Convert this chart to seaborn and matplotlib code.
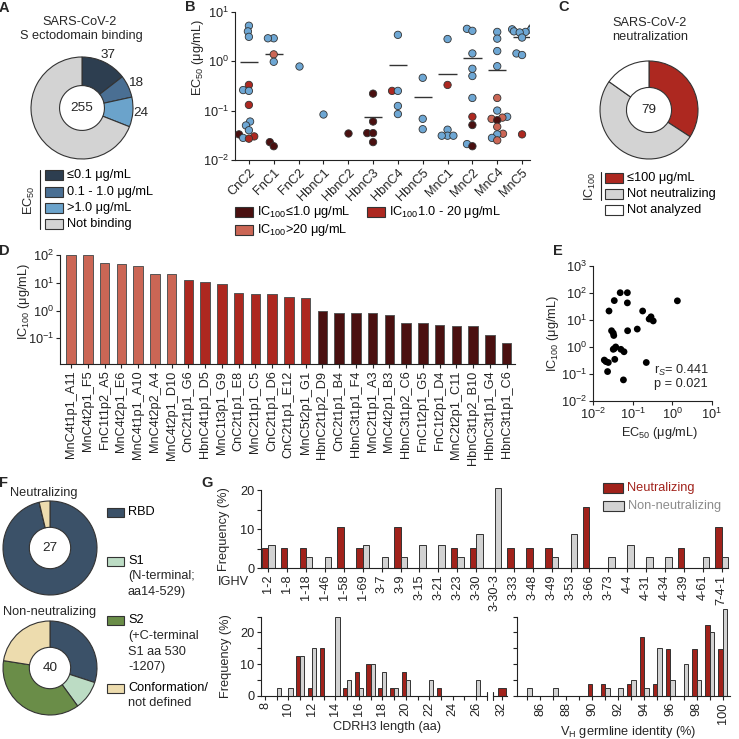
import numpy as np
import pandas as pd
import matplotlib
matplotlib.use("Agg")
import matplotlib.pyplot as plt
import matplotlib.patches as mpatches
import matplotlib.ticker as mticker
from matplotlib.collections import PathCollection
import seaborn as sns

# ─── DATA ────────────────────────────────────────────────────
# A: S ectodomain binding (EC50 classes)
a_counts = [37, 18, 24, 176]
a_labels = ["37", "18", "24", ""]

# B: EC50 per donor, colour = IC100 class
b_donors = ["CnC2", "FnC1", "FnC2", "HbnC1", "HbnC2", "HbnC3",
            "HbnC4", "HbnC5", "MnC1", "MnC2", "MnC4", "MnC5"]
b_donor = (["CnC2"] * 14 + ["FnC1"] * 6 + ["FnC2"] + ["HbnC1"] + ["HbnC2"]
           + ["HbnC3"] * 5 + ["HbnC4"] * 5 + ["HbnC5"] * 3 + ["MnC1"] * 6
           + ["MnC2"] * 10 + ["MnC4"] * 15 + ["MnC5"] * 10)
b_ec50 = [5.2, 4.0, 3.1, 0.33, 0.26, 0.25, 0.13, 0.06, 0.05, 0.04, 0.033, 0.030, 0.028, 0.027,
          2.9, 2.9, 1.37, 0.97, 0.023, 0.019,
          0.79,
          0.084,
          0.035,
          0.22, 0.06, 0.035, 0.035, 0.023,
          3.4, 0.25, 0.25, 0.124, 0.085,
          0.46, 0.068, 0.042,
          2.8, 0.33, 0.041, 0.031, 0.031, 0.031,
          4.5, 4.1, 1.43, 0.70, 0.50, 0.18, 0.075, 0.051, 0.021, 0.019,
          3.9, 2.85, 1.6, 0.79, 0.18, 0.10, 0.075, 0.072, 0.068, 0.064, 0.047, 0.034, 0.033, 0.028, 0.025,
          4.7, 4.4, 4.3, 4.0, 3.9, 3.8, 3.0, 1.43, 1.33, 0.033]
b_class = ["n", "n", "n", "mid", "n", "n", "mid", "n", "n", "n", "low", "mid", "n", "mid",
           "n", "n", "high", "n", "low", "low",
           "n",
           "n",
           "low",
           "low", "low", "low", "low", "low",
           "n", "mid", "n", "n", "n",
           "n", "n", "n",
           "n", "mid", "n", "n", "n", "n",
           "n", "n", "n", "n", "n", "n", "mid", "low", "n", "low",
           "n", "n", "n", "n", "high", "n", "n", "high", "high", "low", "high", "high", "n", "n", "high",
           "n", "n", "n", "n", "n", "n", "n", "n", "n", "mid"]

# C: neutralization
c_counts = [27, 40, 12]

# D: IC100 per antibody
d_names = ["MnC4t1p1_A11", "MnC4t2p1_F5", "FnC1t1p2_A5", "MnC4t2p1_E6", "MnC4t1p1_A10",
           "MnC4t2p2_A4", "MnC4t2p1_D10", "CnC2t1p1_G6", "HbnC4t1p1_D5", "MnC1t3p1_G9",
           "CnC2t1p1_E8", "MnC2t1p1_C5", "CnC2t1p1_D6", "CnC2t1p1_E12", "MnC5t2p1_G1",
           "HbnC2t1p2_D9", "CnC2t1p1_B4", "HbnC3t1p1_F4", "MnC2t1p1_A3", "MnC4t2p1_B3",
           "HbnC3t1p2_C6", "FnC1t2p1_G5", "FnC1t2p1_D4", "MnC2t2p1_C11", "HbnC3t1p2_B10",
           "HbnC3t1p1_G4", "HbnC3t1p1_C6"]
d_ic100 = [100, 100, 51, 50, 42, 21, 21, 12.8, 10.6, 9.0, 4.5, 3.9, 3.9, 3.2, 2.8,
           0.98, 0.85, 0.85, 0.85, 0.70, 0.36, 0.36, 0.30, 0.27, 0.27, 0.13, 0.066]

# E: EC50 vs IC100
e_ec50 = [0.048, 0.073, 0.034, 1.35, 0.073, 0.025, 0.178, 0.29, 0.26, 0.33, 0.13, 0.029, 0.074,
          0.032, 0.033, 0.037, 0.032, 0.050, 0.034, 0.060, 0.035, 0.019, 0.021, 0.024, 0.22,
          0.023, 0.058]
e_ic100 = [100, 100, 51, 50, 42, 21, 21, 12.8, 10.6, 9.0, 4.5, 3.9, 3.9, 3.2, 2.6, 0.98, 0.8,
           0.8, 0.85, 0.65, 0.34, 0.32, 0.28, 0.26, 0.26, 0.12, 0.059]

# F: epitope
f_labels = ["RBD", "S1", "S2", "Conformation"]
f_neut = [26, 0, 0, 1]
f_non = [12, 4, 15, 9]

# G: IGHV usage (%)
ighv = ["1-2", "1-8", "1-18", "1-46", "1-58", "1-69", "3-7", "3-9", "3-15", "3-21", "3-23",
        "3-30", "3-30-3", "3-33", "3-48", "3-49", "3-53", "3-66", "3-73", "4-4", "4-31",
        "4-34", "4-39", "4-61", "7-4-1"]
ighv_neut = [5.3, 5.3, 5.3, 0, 10.5, 5.3, 0, 10.5, 0, 0, 5.3, 5.3, 0, 5.3, 5.3, 5.3, 0, 15.8,
             0, 0, 0, 0, 5.3, 0, 10.5]
ighv_non = [5.9, 0, 2.9, 2.9, 0, 5.9, 2.9, 2.9, 5.9, 5.9, 2.9, 8.8, 20.6, 0, 0, 2.9, 8.8, 0,
            2.9, 5.9, 2.9, 2.9, 0, 2.9, 2.9]

cdr_len = [9, 10, 11, 12, 13, 14, 15, 16, 17, 18, 19, 20, 21, 22, 23, 24, 25, 26, 32]
cdr_neut = [0, 0, 12.5, 2.5, 15, 0, 2.5, 7.5, 10, 2.5, 2.5, 7.5, 0, 0, 2.5, 0, 0, 0, 2.5]
cdr_non = [2.5, 2.5, 12.5, 15, 0, 25, 5, 2.5, 10, 7.5, 2.5, 5, 0, 5, 0, 0, 0, 5, 0]

vh_id = [85, 86, 87, 88, 89, 90, 91, 92, 93, 94, 95, 96, 97, 98, 99, 100]
vh_neut = [0, 0, 0, 0, 0, 3.7, 3.7, 0, 3.7, 18.5, 3.7, 14.8, 0, 14.8, 22.2, 14.8]
vh_non = [2.5, 0, 2.5, 0, 0, 0, 2.5, 2.5, 5, 2.5, 15, 5, 10, 5, 20, 27.5]

# ─── STYLE ───────────────────────────────────────────────────
sns.set_theme(style="ticks")
FS = 9.2
plt.rcParams["font.family"] = ["Liberation Sans", "DejaVu Sans"]
plt.rcParams.update({
    "mathtext.fontset": "custom", "mathtext.rm": "Liberation Sans",
    "mathtext.it": "Liberation Sans:italic", "mathtext.bf": "Liberation Sans:bold",
    "font.size": FS, "axes.labelsize": FS, "xtick.labelsize": FS, "ytick.labelsize": FS,
    "axes.linewidth": 0.8, "axes.edgecolor": "#222",
    "xtick.major.width": 0.8, "ytick.major.width": 0.8,
    "xtick.minor.width": 0.8, "ytick.minor.width": 0.8,
    "xtick.major.size": 3, "ytick.major.size": 3,
    "xtick.minor.size": 3, "ytick.minor.size": 3,
    "xtick.major.pad": 1.5, "ytick.major.pad": 1.5,
    "xtick.color": "#222", "ytick.color": "#222",
})

NAVY, MIDBLUE, LIGHTBLUE, GREY = "#2d3e50", "#4a6f93", "#6ba3cb", "#d3d3d3"
DARKRED, RED, SALMON, PBLUE = "#4a1010", "#ad2820", "#cb6655", "#6ea7d4"
RBD, S1, S2, CONF = "#3b5168", "#bcdcc4", "#6a8d48", "#eddcae"
G_RED, G_GREY = "#a1221b", "#d2d2d2"
EDGE = "#333333"

W = H = 739
fig = plt.figure(figsize=(W / 100, H / 100), dpi=100)


def box(x0, y0, x1, y1):
    return [x0 / W, 1 - y1 / H, (x1 - x0) / W, (y1 - y0) / H]


def ftext(x, y, s, **kw):
    kw.setdefault("ha", "center")
    kw.setdefault("va", "center")
    fig.text(x / W, 1 - y / H, s, **kw)


def key(x, y, color, label, tcolor="black", w=18, h=10):
    fig.add_artist(mpatches.Rectangle((x / W, 1 - (y + h / 2) / H), w / W, h / H,
                                      transform=fig.transFigure, facecolor=color,
                                      edgecolor=EDGE, linewidth=0.8))
    ftext(x + w + 4, y, label, ha="left", color=tcolor)


def vline(x, y0, y1):
    fig.add_artist(plt.Line2D([x / W, x / W], [1 - y0 / H, 1 - y1 / H],
                              transform=fig.transFigure, color="#222", lw=0.8))


def donut(cx, cy, r, values, colors, center, labels=None, width=0.56):
    ax = fig.add_axes(box(cx - r, cy - r, cx + r, cy + r))
    wedges, texts = ax.pie(values, colors=colors, startangle=90, counterclock=False,
                           labels=labels, labeldistance=1.15,
                           wedgeprops=dict(width=width, edgecolor=EDGE, linewidth=0.8))
    for wdg in wedges:
        wdg.set_clip_on(False)
    for t in texts:
        t.set_ha("center")
        t.set_va("center")
        t.set_fontsize(FS + 0.5)
    ax.set_xlim(-1, 1)
    ax.set_ylim(-1, 1)
    ax.text(0, 0, center, ha="center", va="center", fontsize=FS + 0.5)
    return ax


def log_axis(axis):
    axis.set_major_locator(mticker.LogLocator(base=10, numticks=10))
    axis.set_minor_locator(mticker.NullLocator())
    axis.set_major_formatter(mticker.LogFormatterSciNotation())


# panel letters
for lab, x, y in [("A", 4, 8), ("B", 190, 7), ("C", 564, 7), ("D", 4, 251),
                  ("E", 558, 251), ("F", 4, 483), ("G", 207, 483)]:
    ftext(x, y, lab, fontsize=10.5, fontweight="bold")

# ─── A ───────────────────────────────────────────────────────
donut(82, 108, 51, a_counts, [NAVY, MIDBLUE, LIGHTBLUE, GREY], "255", labels=a_labels)
ftext(80, 22, "SARS-CoV-2")
ftext(81, 36, "S ectodomain binding")
vline(40, 170, 229)
ftext(29, 200, "EC$_{50}$", rotation=90)
for yy, col, lab in zip([175, 192, 208, 224], [NAVY, MIDBLUE, LIGHTBLUE, GREY],
                        ["≤0.1 μg/mL", "0.1 - 1.0 μg/mL", ">1.0 μg/mL", "Not binding"]):
    key(45, yy, col, lab)

# ─── B ───────────────────────────────────────────────────────
dfB = pd.DataFrame({"donor": b_donor, "ec50": b_ec50, "cls": b_class})
axB = fig.add_axes(box(235, 11.7, 530, 160))
stats = dfB.groupby("donor")["ec50"].agg(["mean", "count"])
for i, d in enumerate(b_donors):
    if stats.loc[d, "count"] > 1:
        axB.hlines(stats.loc[d, "mean"], i - 0.37, i + 0.37, color="#333", lw=1.0, zorder=1)
# swarm laid out with small markers so the points overlap like the original
sns.swarmplot(data=dfB, x="donor", y="ec50", hue="cls", order=b_donors,
              hue_order=["n", "low", "mid", "high"],
              palette={"n": PBLUE, "low": DARKRED, "mid": RED, "high": SALMON},
              size=3.4, edgecolor="#333", linewidth=0.6, log_scale=True,
              legend=False, zorder=3, ax=axB)
axB.set_ylim(0.01, 10)
axB.set_xlim(-0.56, 11.32)
log_axis(axB.yaxis)
axB.set_xlabel("")
axB.set_ylabel("")
plt.setp(axB.get_xticklabels(), rotation=45, ha="right", rotation_mode="anchor")
sns.despine(ax=axB)
fig.canvas.draw()
for coll in axB.collections:
    if isinstance(coll, PathCollection):
        if "draw" in vars(coll):
            del coll.draw
        coll.set_sizes([5.3 ** 2])
ftext(198, 57, "EC$_{50}$ (μg/mL)", rotation=90)
key(235, 212, DARKRED, "IC$_{100}$≤1.0 μg/mL")
key(367, 212, RED, "IC$_{100}$1.0 - 20 μg/mL")
key(235, 230, SALMON, "IC$_{100}$>20 μg/mL")

# ─── C ───────────────────────────────────────────────────────
donut(649, 110, 49, c_counts, [RED, GREY, "white"], "79", width=0.54)
ftext(650, 23, "SARS-CoV-2")
ftext(650, 37, "neutralization")
vline(601, 172, 200)
ftext(590, 186, "IC$_{100}$", rotation=90)
for yy, col, lab in zip([178, 194, 210], [RED, GREY, "white"],
                        ["≤100 μg/mL", "Not neutralizing", "Not analyzed"]):
    key(605, yy, col, lab)

# ─── D ───────────────────────────────────────────────────────
d_class = ["high" if v > 20 else ("mid" if v > 1 else "low") for v in d_ic100]
axD = fig.add_axes(box(60, 255.3, 515, 364.3))
sns.barplot(x=d_names, y=d_ic100, hue=d_class,
            palette={"low": DARKRED, "mid": RED, "high": SALMON}, dodge=False,
            legend=False, width=0.56, saturation=1, edgecolor="#555", linewidth=0.7,
            ax=axD)
axD.set_yscale("log")
axD.set_ylim(10 ** -1.94, 100)
axD.set_xlim(-0.66, 26.5)
log_axis(axD.yaxis)
axD.set_yticks([0.1, 1, 10, 100])
plt.setp(axD.get_xticklabels(), rotation=90)
sns.despine(ax=axD)
ftext(24, 301, "IC$_{100}$ (μg/mL)", rotation=90)

# ─── E ───────────────────────────────────────────────────────
axE = fig.add_axes(box(593.3, 265.7, 711.7, 400.7))
sns.scatterplot(x=e_ec50, y=e_ic100, color="black", s=24, edgecolor="none", ax=axE)
axE.set(xscale="log", yscale="log", xlim=(0.01, 10), ylim=(0.01, 1000))
log_axis(axE.xaxis)
log_axis(axE.yaxis)
sns.despine(ax=axE)
ftext(553, 333, "IC$_{100}$ (μg/mL)", rotation=90)
ftext(660, 433, "EC$_{50}$ (μg/mL)")
ftext(654, 370, "r$_{S}$= 0.441", ha="left")
ftext(654, 384, "p = 0.021", ha="left")

# ─── F ───────────────────────────────────────────────────────
f_colors = [RBD, S1, S2, CONF]
donut(50, 548, 47, f_neut, f_colors, "27")
donut(50, 668, 47, f_non, f_colors, "40")
ftext(10, 493, "Neutralizing", ha="left")
ftext(3, 612, "Non-neutralizing", ha="left")
key(107, 512, RBD, "RBD", w=17, h=9)
key(107, 561, S1, "S1", w=17, h=9)
ftext(128, 576, "(N-terminal;", ha="left")
ftext(128, 592, "aa14-529)", ha="left")
key(107, 620, S2, "S2", w=17, h=9)
ftext(128, 636, "(+C-terminal", ha="left")
ftext(128, 652, "S1 aa 530", ha="left")
ftext(128, 667, "-1207)", ha="left")
key(107, 688, CONF, "Conformation/", w=17, h=9)
ftext(128, 703, "not defined", ha="left")

# ─── G ───────────────────────────────────────────────────────
groups = ["Neutralizing", "Non-neutralizing"]
gpal = [G_RED, G_GREY]


def long_df(xs, a, b):
    df = pd.DataFrame({"x": list(xs) * 2, "pct": list(a) + list(b),
                       "grp": [groups[0]] * len(a) + [groups[1]] * len(b)})
    return df[df["pct"] > 0]


def bars(ax, df, native, width):
    sns.barplot(data=df, x="x", y="pct", hue="grp", hue_order=groups, palette=gpal,
                native_scale=native, width=width, saturation=1, edgecolor=EDGE,
                linewidth=0.7, legend=False, ax=ax)
    for p in ax.patches:
        p.set_clip_on(False)
    ax.set_xlabel("")
    ax.set_ylabel("")


axG1 = fig.add_axes(box(260.7, 490.3, 728, 568.3))
dfI = long_df(ighv, ighv_neut, ighv_non)
dfI["x"] = pd.Categorical(dfI["x"], categories=ighv)
bars(axG1, dfI, False, 0.68)
axG1.set_xlim(-0.4, 24.33)
axG1.set_ylim(0, 20)
axG1.yaxis.set_major_locator(mticker.MultipleLocator(10))
axG1.yaxis.set_minor_locator(mticker.MultipleLocator(5))
plt.setp(axG1.get_xticklabels(), rotation=90)
sns.despine(ax=axG1)
ftext(233, 582, "IGHV")
ftext(224, 529, "Frequency (%)", rotation=90)
key(603, 488, G_RED, "Neutralizing", tcolor=G_RED, w=20)
key(603, 506, G_GREY, "Non-neutralizing", tcolor="#8c8c8c", w=21)

# CDRH3 length (broken axis)
main = [i for i, v in enumerate(cdr_len) if v <= 27]
tail = [i for i, v in enumerate(cdr_len) if v > 27]
axG2 = fig.add_axes(box(260.7, 616.5, 486.7, 696))
bars(axG2, long_df([cdr_len[i] for i in main], [cdr_neut[i] for i in main],
                   [cdr_non[i] for i in main]), True, 0.7)
axG2.set_xlim(7.63, 26.9)
axG2.set_ylim(0, 25)
axG2.set_xticks(range(8, 27, 2))
axG2.xaxis.set_minor_locator(mticker.MultipleLocator(1))
axG2.yaxis.set_major_locator(mticker.MultipleLocator(10))
axG2.yaxis.set_minor_locator(mticker.MultipleLocator(5))
plt.setp(axG2.get_xticklabels(), rotation=90)
sns.despine(ax=axG2)
axG2.plot([1, 1], [-0.05, 0.05], transform=axG2.transAxes, color="#222", lw=0.8, clip_on=False)

axG2b = fig.add_axes(box(493, 616.5, 507, 696))
bars(axG2b, long_df([cdr_len[i] for i in tail], [cdr_neut[i] for i in tail],
                    [cdr_non[i] for i in tail]), True, 0.7)
axG2b.set_xlim(31.26, 32.45)
axG2b.set_ylim(0, 25)
axG2b.set_xticks([32])
axG2b.set_yticks([])
plt.setp(axG2b.get_xticklabels(), rotation=90)
sns.despine(ax=axG2b, left=True)
axG2b.plot([0, 0], [-0.05, 0.05], transform=axG2b.transAxes, color="#222", lw=0.8, clip_on=False)
ftext(226, 656, "Frequency (%)", rotation=90)
ftext(387, 727, "CDRH3 length (aa)")

# VH germline identity
axG3 = fig.add_axes(box(517.3, 616.5, 730, 696))
bars(axG3, long_df(vh_id, vh_neut, vh_non), True, 0.7)
axG3.set_xlim(84.26, 100.56)
axG3.set_ylim(0, 25)
axG3.set_xticks(range(86, 101, 2))
axG3.xaxis.set_minor_locator(mticker.MultipleLocator(1))
axG3.yaxis.set_major_locator(mticker.MultipleLocator(10))
axG3.yaxis.set_minor_locator(mticker.MultipleLocator(5))
axG3.tick_params(axis="y", labelleft=False)
plt.setp(axG3.get_xticklabels(), rotation=90)
sns.despine(ax=axG3)
ftext(628, 732, "V$_{\\mathrm{H}}$ germline identity (%)")

fig.savefig("out.png", dpi=100)
